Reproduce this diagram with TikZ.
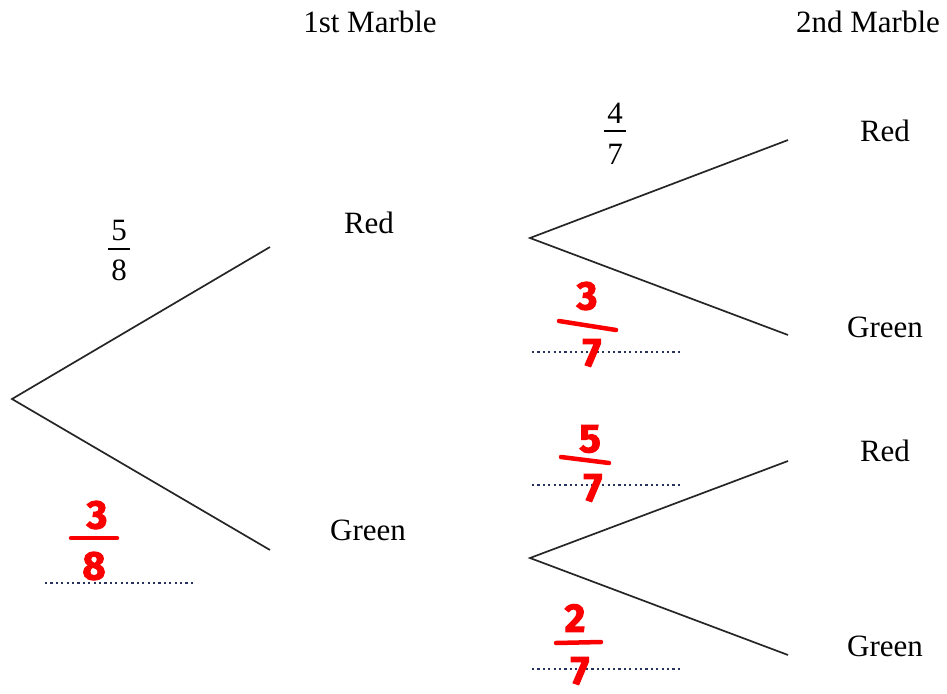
\documentclass[tikz,border=0pt]{standalone}
\usepackage{fontspec}
\setmainfont{Liberation Serif}
\newfontfamily\handfont[FakeBold=2.5]{Fira Sans}
\definecolor{dotblue}{RGB}{40,50,95}
\definecolor{inkred}{RGB}{250,0,0}
\begin{document}
\begin{tikzpicture}[x=1pt,y=-1pt,
  branch/.style={line width=1.7pt, black!85},
  lbl/.style={font=\fontsize{31}{36}\selectfont, inner sep=0pt},
  frdigit/.style={font=\fontsize{31}{34}\selectfont, inner sep=0pt},
  frbar/.style={line width=1.5pt},
  blank/.style={line width=2.6pt, dotblue, dash pattern=on 2.2pt off 3.2pt},
  hand/.style={font=\handfont\bfseries\fontsize{40}{44}\selectfont, text=inkred, inner sep=0pt},
  handbar/.style={line width=4.5pt, inkred, line cap=round}]
\useasboundingbox (0,0) rectangle (947,693);
% headers
\node[lbl] (h1) at (370,22) {1st Marble};
\node[lbl] (h2) at (868,22) {2nd Marble};
% tree coordinates
\coordinate (r0) at (12,399);
\coordinate (a1) at (270,247);
\coordinate (a2) at (270,550);
\coordinate (r1) at (530,238);
\coordinate (r2) at (530,558);
\coordinate (b1) at (788,140);
\coordinate (b2) at (788,335);
\coordinate (b3) at (788,461);
\coordinate (b4) at (788,655);
\draw[branch] (a1) -- (r0) -- (a2);
\draw[branch] (b1) -- (r1) -- (b2);
\draw[branch] (b3) -- (r2) -- (b4);
% outcome labels
\node[lbl] (red1) at (369,223) {Red};
\node[lbl] (green1) at (368,530) {Green};
\node[lbl] (red2) at (885,131) {Red};
\node[lbl] (green2) at (885,327) {Green};
\node[lbl] (red3) at (885,451) {Red};
\node[lbl] (green3) at (885,646) {Green};
% printed fractions
\node[frdigit] (n58) at (119,230) {5};
\node[frdigit] (d58) at (119,270) {8};
\draw[frbar] (108,249) -- (130,249);
\node[frdigit] (n47) at (615,113) {4};
\node[frdigit] (d47) at (615,154) {7};
\draw[frbar] (604,131) -- (626,131);
% dotted answer lines
\coordinate (l1a) at (45,583); \coordinate (l1b) at (195,583);
\coordinate (l2a) at (532,352); \coordinate (l2b) at (680,352);
\coordinate (l3a) at (532,485); \coordinate (l3b) at (680,485);
\coordinate (l4a) at (532,669); \coordinate (l4b) at (680,669);
\draw[blank] (l1a) -- (l1b);
\draw[blank] (l2a) -- (l2b);
\draw[blank] (l3a) -- (l3b);
\draw[blank] (l4a) -- (l4b);
% handwritten answers
\node[hand] (n38) at (97,515) {3};
\node[hand] (d38) at (94,566) {8};
\draw[handbar] (71,538) -- (117,538);
\node[hand] (n37) at (587,296) {3};
\node[hand] (d37) at (592,353) {7};
\draw[handbar] (559,321) -- (616,330);
\node[hand] (n57) at (590,439) {5};
\node[hand] (d57) at (593,488) {7};
\draw[handbar] (561,457) -- (609,463);
\node[hand] (n27) at (575,618) {2};
\node[hand] (d27) at (580,671) {7};
\draw[handbar] (556,643) -- (601,642);
\end{tikzpicture}
\end{document}
